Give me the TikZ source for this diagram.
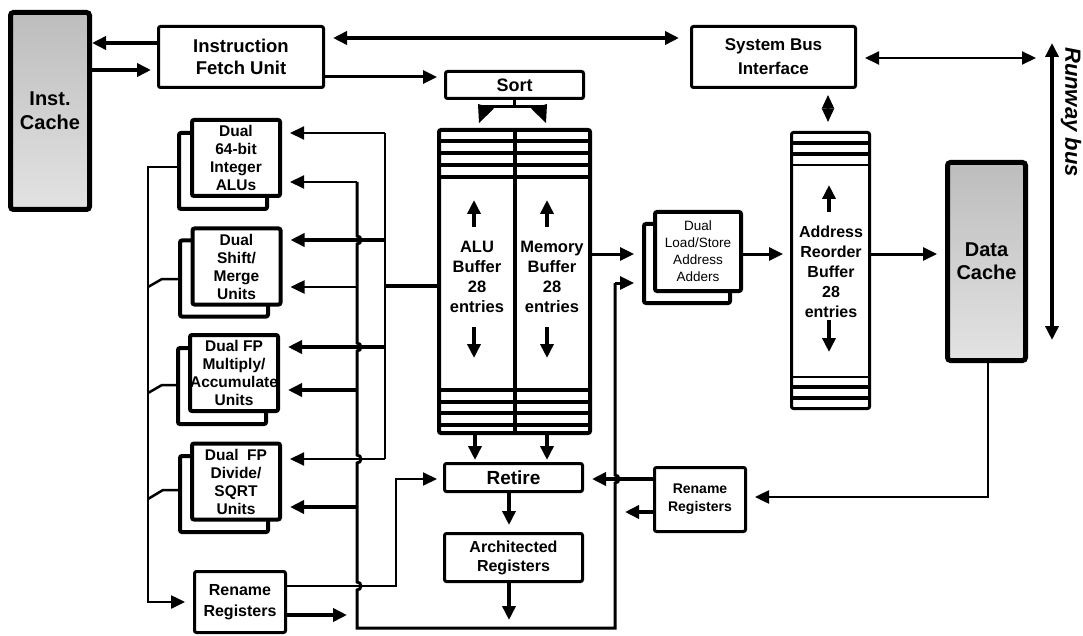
\documentclass[tikz,border=0pt]{standalone}
\usepackage{fontspec}
\setmainfont{Liberation Sans}
\usetikzlibrary{arrows.meta}
\begin{document}
\begin{tikzpicture}[x=1pt,y=-1pt,
  >={Triangle[length=14pt,width=13pt]},
  box/.style={draw, line width=3pt, fill=white, rounded corners=2pt, inner sep=0pt, align=center},
  fu/.style={draw, line width=4pt, fill=white, rounded corners=2pt, inner sep=0pt, align=center,
    minimum width=88, minimum height=76, font=\fontsize{15.5}{18}\selectfont\bfseries},
  lsbox/.style={draw, line width=4pt, fill=white, rounded corners=2pt, inner sep=0pt, align=center,
    minimum width=86, minimum height=79, font=\fontsize{13.5}{17}\selectfont},
  cache/.style={draw, line width=5pt, rounded corners=3pt, top color=black!26, bottom color=black!11,
    inner sep=0pt, align=center, font=\fontsize{20}{24}\selectfont\bfseries},
  buftext/.style={inner sep=0pt, align=center, font=\fontsize{16.5}{20}\selectfont\bfseries},
  stripe/.style={line width=3.5pt},
  thk/.style={->, line width=4pt},
  mid/.style={->, line width=3pt},
  thn/.style={->, line width=2pt},
]
\useasboundingbox (0,0) rectangle (1083,636);

% ---------------- nodes ----------------
\node[cache, minimum width=79, minimum height=197] (icache) at (50,111) {Inst.\\Cache};
\node[box, minimum width=165, minimum height=61, font=\fontsize{18.5}{22}\selectfont\bfseries] (ifu) at (241,57) {Instruction\\Fetch Unit};
\node[box, minimum width=164, minimum height=61, font=\fontsize{17}{24}\selectfont\bfseries] (sbi) at (773.5,57) {System Bus\\Interface};
\node[box, minimum width=138, minimum height=27, font=\fontsize{18}{20}\selectfont\bfseries] (sort) at (514.5,85) {Sort};

% functional units (stacked)
\node[fu] (alub) at (223,171) {};
\node[fu] (alu) at (236,158) {Dual\\64-bit\\Integer\\ALUs};
\node[fu] (shiftb) at (224,278.5) {};
\node[fu] (shift) at (236.5,266.5) {Dual\\Shift/\\Merge\\Units};
\node[fu] (fpmulb) at (222,386) {};
\node[fu] (fpmul) at (234,373) {Dual FP\\Multiply/\\Accumulate\\Units};
\node[fu] (fpdivb) at (224,494) {};
\node[fu] (fpdiv) at (236,481.5) {Dual\ \ FP\\Divide/\\SQRT\\Units};

% ALU / memory buffer
\node[draw, line width=4pt, rounded corners=2pt, minimum width=151, minimum height=303, inner sep=0pt] (buf) at (514.5,281.5) {};
\draw[line width=4pt] (buf.north) -- (buf.south);
\foreach \yy in {141,153,165,177,390,402,413,425}
  \draw[stripe] (buf.west |- 0,\yy) -- (buf.east |- 0,\yy);
\node[buftext] (alutext) at (477,277) {ALU\\Buffer\\28\\entries};
\node[buftext] (memtext) at (552,277) {Memory\\Buffer\\28\\entries};
\draw[->, line width=3.5pt] (474,227) -- (474,200);
\draw[->, line width=3.5pt] (547,227) -- (547,200);
\draw[->, line width=3.5pt] (474,327) -- (474,358);
\draw[->, line width=3.5pt] (547,327) -- (547,358);

% load/store adders
\node[lsbox] (lsab) at (687,263.5) {};
\node[lsbox] (lsa) at (698,251.5) {Dual\\Load/Store\\Address\\Adders};

% address reorder buffer
\node[draw, line width=3pt, rounded corners=2pt, minimum width=78, minimum height=276, inner sep=0pt] (arb) at (830.5,270.5) {};
\foreach \yy in {143,154,387,398}
  \draw[line width=4pt] (arb.west |- 0,\yy) -- (arb.east |- 0,\yy);
\foreach \yy in {165,377}
  \draw[line width=2.5pt] (arb.west |- 0,\yy) -- (arb.east |- 0,\yy);
\node[inner sep=0pt, align=center, font=\fontsize{16}{20}\selectfont\bfseries] (arbtext) at (831,272) {Address\\Reorder\\Buffer\\28\\entries};
\draw[->, line width=3.5pt] (829,212) -- (829,185);
\draw[->, line width=3.5pt] (829,320) -- (829,352);

\node[cache, minimum width=78, minimum height=198, font=\fontsize{20}{23}\selectfont\bfseries] (dcache) at (986.5,261.5) {Data\\Cache};

\node[box, minimum width=138, minimum height=28, font=\fontsize{19}{22}\selectfont\bfseries] (retire) at (513.5,477.5) {Retire};
\node[box, minimum width=138, minimum height=48, font=\fontsize{16}{19}\selectfont\bfseries] (arch) at (513.5,557.5) {Architected\\Registers};
\node[box, minimum width=91, minimum height=64, font=\fontsize{14}{18}\selectfont\bfseries] (renR) at (700,499.5) {Rename\\Registers};
\node[box, minimum width=91, minimum height=61, font=\fontsize{16}{21}\selectfont\bfseries] (renL) at (240,602) {Rename\\Registers};

\node[rotate=-90, inner sep=0pt, font=\fontsize{22}{26}\selectfont\bfseries\itshape] (rbus) at (1071,112) {Runway bus};

% ---------------- coordinates ----------------
\coordinate (rbtop) at (1052,43);
\coordinate (rbbot) at (1052,340);
\coordinate (aT) at (357,182);
\coordinate (aBL) at (357,628);
\coordinate (aBR) at (615,628);
\coordinate (aR) at (615,283);
\coordinate (bT) at (385,133);
\coordinate (bB) at (385,459);
\coordinate (lb) at (148,167);

% ---------------- connectors ----------------
\draw[thk] (ifu.west |- 0,43) -- (icache.east |- 0,43);
\draw[thk, shorten >=6pt] (icache.east |- 0,70) -- (ifu.west |- 0,70);
\draw[<->, line width=4pt, shorten <=8pt, shorten >=11pt] (ifu.east |- 0,38) -- (sbi.west |- 0,38);
\draw[mid, shorten >=7pt] (ifu.east |- 0,77) -- (sort.west |- 0,77);

% sort -> buffer
\draw[line width=3pt] (sort.south) -- (sort.south |- 0,107);
\draw[line width=3pt] (481,107) -- (544,107);
\fill (478,104) -- (494,108.5) -- (479,123) -- cycle;
\fill (547,104) -- (531,108.5) -- (546,123) -- cycle;

% system bus
\draw[<->, line width=2pt, shorten <=8pt, shorten >=16pt] (sbi.east |- 0,58) -- (rbtop |- 0,58);
\draw[<->, line width=4pt] (rbtop) -- (rbbot);
\draw[{Triangle[length=13.5pt,width=12pt]}-{Triangle[length=13.5pt,width=12pt]}, line width=2pt, shorten <=6pt, shorten >=9pt]
  (sbi.south -| 828,0) -- (arb.north -| 828,0);

% data path on the right
\draw[mid, shorten >=8pt] (buf.east |- 0,254) -- (lsab.west |- 0,254);
\draw[mid, shorten >=7pt] (lsa.east |- 0,254) -- (arb.west |- 0,254);
\draw[mid, shorten >=8pt] (arb.east |- 0,254) -- (dcache.west |- 0,254);
\draw[->, line width=2.5pt, shorten >=8pt] (dcache.south -| 988,0) |- (renR.east |- 0,497);

% retire path
\draw[thk, shorten >=2pt] (buf.south -| 475,0) -- (retire.north -| 475,0);
\draw[thk, shorten >=2pt] (buf.south -| 547,0) -- (retire.north -| 547,0);
\draw[thk, shorten >=7pt] (retire.south -| 509,0) -- (arch.north -| 509,0);
\draw[thk, shorten >=8pt] (arch.south -| 509,0) -- (aBL -| 509,0);
\draw[thk, shorten >=8pt] (renR.west |- 0,479) -- (retire.east |- 0,479);
\draw[thk, shorten >=10pt] (renR.west |- 0,512) -- (aBR |- 0,512);

% left rename registers
\draw[thk, shorten >=10pt] (renL.east |- 0,615) -- (aBL |- 0,615);
\draw[thn, shorten >=6pt] (renL.east |- 0,586) -- (396,586) -- (396,479) -- (retire.west |- 0,479);

% left bus from functional units
\draw[->, line width=2.5pt, shorten >=8pt] (alub.west |- 0,167) -- (lb) -- (lb |- 0,602) -- (renL.west |- 0,602);
\draw[line width=2.5pt] (148,287) -- (162,279) -- (shiftb.west |- 0,279);
\draw[line width=2.5pt] (148,393) -- (162,385) -- (fpmulb.west |- 0,385);
\draw[line width=2.5pt] (148,499) -- (163,490) -- (fpdivb.west |- 0,490);

% line B (from ALU buffer)
\draw[line width=4pt] (buf.west |- 0,286) -- (bT |- 0,286);
\draw[line width=2pt] (bT) -- (bB);
\draw[thn, shorten >=8pt] (bT) -- (alu.east |- bT);
\draw[thk, shorten >=8pt] (bT |- 0,240) -- (shift.east |- 0,240);
\draw[thk, shorten >=8pt] (bT |- 0,347) -- (fpmul.east |- 0,347);
\draw[thn, shorten >=8pt] (bB) -- (fpdiv.east |- bB);

% line A (register bus) with hops
\draw[line width=3pt] (aT) -- (357,236) arc[start angle=-90,end angle=90,radius=4]
  -- (357,343) arc[start angle=-90,end angle=90,radius=4]
  -- (357,455) arc[start angle=-90,end angle=90,radius=4]
  -- (357,582) arc[start angle=-90,end angle=90,radius=4]
  -- (aBL) -- (aBR) -- (615,483) arc[start angle=90,end angle=-90,radius=4] -- (aR);
\draw[thn, shorten >=8pt] (aT) -- (alu.east |- aT);
\draw[->, line width=2.5pt, shorten >=8pt] (aT |- 0,287) -- (shift.east |- 0,287);
\draw[thk, shorten >=8pt] (aT |- 0,390) -- (fpmul.east |- 0,390);
\draw[thk, shorten >=8pt] (aT |- 0,507) -- (fpdiv.east |- 0,507);
\draw[mid, shorten >=8pt] (aR) -- (lsab.west |- aR);
\end{tikzpicture}
\end{document}
